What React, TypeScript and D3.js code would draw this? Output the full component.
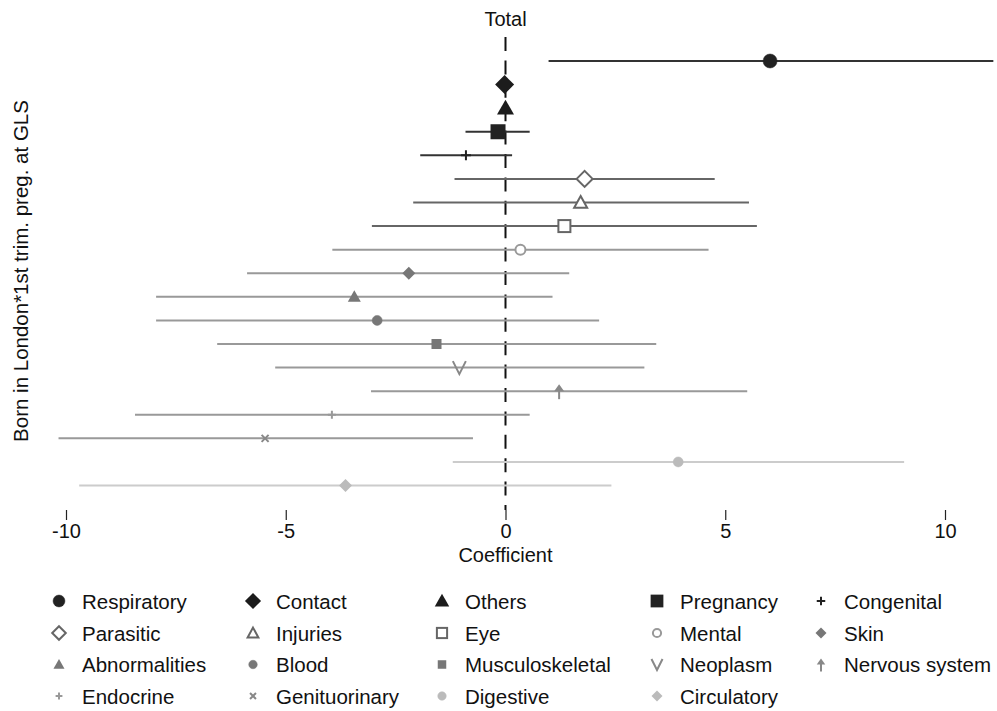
import { useEffect, useRef } from "react";
import * as d3 from "d3";

// Estimates, one row per cause category (top to bottom)
const CATEGORIES = [
  "Respiratory", "Contact", "Others", "Pregnancy", "Congenital",
  "Parasitic", "Injuries", "Eye", "Mental", "Skin",
  "Abnormalities", "Blood", "Musculoskeletal", "Neoplasm", "Nervous system",
  "Endocrine", "Genituorinary", "Digestive", "Circulatory",
];
const ESTIMATES = [
  6.02, -0.02, 0.0, -0.17, -0.9,
  1.8, 1.71, 1.34, 0.34, -2.2,
  -3.44, -2.92, -1.57, -1.05, 1.22,
  -3.95, -5.47, 3.93, -3.64,
];
const LOWER = [
  0.98, -0.08, -0.05, -0.91, -1.94,
  -1.16, -2.1, -3.04, -3.94, -5.88,
  -7.95, -7.95, -6.56, -5.24, -3.06,
  -8.43, -10.17, -1.2, -9.7,
];
const UPPER = [
  11.1, 0.05, 0.05, 0.55, 0.15,
  4.76, 5.54, 5.72, 4.62, 1.45,
  1.07, 2.13, 3.43, 3.16, 5.5,
  0.55, -0.74, 9.07, 2.41,
];
const X_TICKS = [-10, -5, 0, 5, 10];

// Legend order (row by row, 5 columns)
const LEGEND_ORDER = [
  "Respiratory", "Contact", "Others", "Pregnancy", "Congenital",
  "Parasitic", "Injuries", "Eye", "Mental", "Skin",
  "Abnormalities", "Blood", "Musculoskeletal", "Neoplasm", "Nervous system",
  "Endocrine", "Genituorinary", "Digestive", "Circulatory",
];

// marker style per category: shape, size, marker colour, line colour
const STYLE: Record<string, { shape: string; size: number; color: string; line: string }> = {
  "Respiratory": { shape: "circle", size: 7, color: "#222", line: "#333" },
  "Contact": { shape: "diamond", size: 9.5, color: "#1c1c1c", line: "#333" },
  "Others": { shape: "triangle", size: 8.5, color: "#1c1c1c", line: "#333" },
  "Pregnancy": { shape: "square", size: 7.5, color: "#222", line: "#333" },
  "Congenital": { shape: "plus", size: 5, color: "#222", line: "#333" },
  "Parasitic": { shape: "diamondO", size: 8, color: "#666", line: "#666" },
  "Injuries": { shape: "triangleO", size: 7.5, color: "#666", line: "#666" },
  "Eye": { shape: "squareO", size: 6, color: "#666", line: "#666" },
  "Mental": { shape: "circleO", size: 6, color: "#999", line: "#999" },
  "Skin": { shape: "diamond", size: 6.5, color: "#777", line: "#999" },
  "Abnormalities": { shape: "triangle", size: 6.5, color: "#777", line: "#999" },
  "Blood": { shape: "circle", size: 5, color: "#777", line: "#999" },
  "Musculoskeletal": { shape: "square", size: 5, color: "#777", line: "#999" },
  "Neoplasm": { shape: "v", size: 6.5, color: "#888", line: "#999" },
  "Nervous system": { shape: "arrow", size: 7, color: "#888", line: "#999" },
  "Endocrine": { shape: "plus", size: 4, color: "#999", line: "#999" },
  "Genituorinary": { shape: "x", size: 3.5, color: "#888", line: "#999" },
  "Digestive": { shape: "circle", size: 5, color: "#bbb", line: "#ccc" },
  "Circulatory": { shape: "diamond", size: 6.5, color: "#bbb", line: "#ccc" },
};

const FONT = "'Liberation Sans', Arial, sans-serif";

function Marker({ x, y, name, k = 1 }: { x: number; y: number; name: string; k?: number }) {
  const s = STYLE[name];
  const r = s.size * k;
  const c = s.color;
  switch (s.shape) {
    case "circle":
      return <circle cx={x} cy={y} r={r} fill={c} stroke={c} strokeWidth={0.5} />;
    case "circleO":
      return <circle cx={x} cy={y} r={r - 1} fill="white" stroke={c} strokeWidth={2} />;
    case "diamond":
      return <path d={`M${x},${y - r}L${x + r},${y}L${x},${y + r}L${x - r},${y}Z`} fill={c} />;
    case "diamondO":
      return (
        <path d={`M${x},${y - r}L${x + r},${y}L${x},${y + r}L${x - r},${y}Z`}
          fill="white" stroke={c} strokeWidth={2} />
      );
    case "triangle":
      return <path d={`M${x},${y - r}L${x + r},${y + r * 0.75}L${x - r},${y + r * 0.75}Z`} fill={c} />;
    case "triangleO":
      return (
        <path d={`M${x},${y - r + 1}L${x + r - 1},${y + r * 0.7}L${x - r + 1},${y + r * 0.7}Z`}
          fill="white" stroke={c} strokeWidth={2} />
      );
    case "square":
      return <rect x={x - r} y={y - r} width={2 * r} height={2 * r} fill={c} />;
    case "squareO":
      return <rect x={x - r} y={y - r} width={2 * r} height={2 * r} fill="white" stroke={c} strokeWidth={2} />;
    case "plus":
      return (
        <path d={`M${x - r},${y}H${x + r}M${x},${y - r}V${y + r}`} stroke={c} strokeWidth={2} fill="none" />
      );
    case "x":
      return (
        <path d={`M${x - r},${y - r}L${x + r},${y + r}M${x - r},${y + r}L${x + r},${y - r}`}
          stroke={c} strokeWidth={2} fill="none" />
      );
    case "v":
      return (
        <path d={`M${x - r},${y - r}L${x},${y + r}L${x + r},${y - r}`} stroke={c} strokeWidth={2} fill="none" />
      );
    case "arrow":
      return (
        <g>
          <path d={`M${x},${y - r + 2}V${y + r + 1}`} stroke={c} strokeWidth={2} />
          <path d={`M${x},${y - r}L${x + 5 * k},${y - r + 7 * k}L${x - 5 * k},${y - r + 7 * k}Z`} fill={c} />
        </g>
      );
    default:
      return null;
  }
}

export default function App() {
  const axisRef = useRef<SVGGElement>(null);

  const width = 997;
  const height = 711;

  const x = d3.scaleLinear().domain([-10, 10]).range([66, 945]);
  const y = d3.scalePoint<string>().domain(CATEGORIES).range([61, 485.5]);

  const axisY = 510;

  useEffect(() => {
    const g = d3.select(axisRef.current);
    g.selectAll("*").remove();
    g.call(
      d3.axisBottom(x)
        .tickValues(X_TICKS)
        .tickSize(10)
        .tickPadding(4)
        .tickFormat((d) => String(d))
    );
    g.select(".domain").remove();
    g.selectAll(".tick line").attr("stroke", "#222").attr("stroke-width", 1.2);
    g.selectAll(".tick text")
      .attr("font-family", FONT)
      .attr("font-size", 20)
      .attr("fill", "#111");
  }, []);

  // legend layout
  const legCols = [59, 253, 442, 657, 821];
  const legRows = [601, 633, 664.5, 696];

  return (
    <div style={{ position: "absolute", left: 0, top: 0 }}>
      <svg width={width} height={height} style={{ display: "block", background: "white" }}>
        {/* zero reference line */}
        <line x1={x(0)} x2={x(0)} y1={37} y2={axisY}
          stroke="#111" strokeWidth={2} strokeDasharray="14,9.4" />
        <text x={x(0)} y={26} textAnchor="middle" fontFamily={FONT} fontSize={20} fill="#111">
          Total
        </text>

        {/* confidence intervals */}
        {CATEGORIES.map((c, i) => (
          <line key={c + "-ci"} x1={x(LOWER[i])} x2={x(UPPER[i])} y1={y(c)} y2={y(c)}
            stroke={STYLE[c].line} strokeWidth={2} />
        ))}
        {/* point estimates */}
        {CATEGORIES.map((c, i) => (
          <Marker key={c + "-pt"} x={x(ESTIMATES[i])} y={y(c)!} name={c} />
        ))}

        {/* x axis */}
        <g ref={axisRef} transform={`translate(0,${axisY})`} />
        <text x={x(0)} y={562} textAnchor="middle" fontFamily={FONT} fontSize={20} fill="#111">
          Coefficient
        </text>

        {/* y axis title */}
        <text transform={`translate(28,${271}) rotate(-90)`} textAnchor="middle"
          fontFamily={FONT} fontSize={20.5} fill="#111">
          Born in London*1st trim. preg. at GLS
        </text>

        {/* legend */}
        {LEGEND_ORDER.map((c, i) => {
          const cx = legCols[i % 5];
          const cy = legRows[Math.floor(i / 5)];
          return (
            <g key={c + "-leg"}>
              <Marker x={cx} y={cy} name={c} k={0.85} />
              <text x={cx + 23} y={cy + 7.5} fontFamily={FONT} fontSize={20.5} fill="#111">
                {c}
              </text>
            </g>
          );
        })}
      </svg>
    </div>
  );
}
